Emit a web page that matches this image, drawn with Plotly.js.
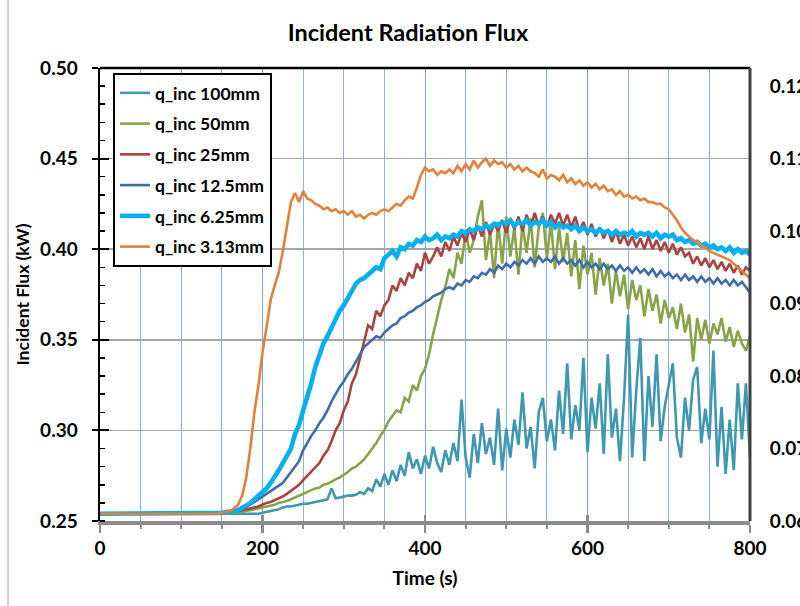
<!DOCTYPE html>
<html>
<head>
<meta charset="utf-8">
<script src="https://cdn.plot.ly/plotly-3.0.1.min.js"></script>
<style>
html,body{margin:0;padding:0;background:#fff;}
#chart{width:800px;height:606px;}
</style>
</head>
<body>
<div id="chart"></div>
<script>
// Time axis: samples every 5 s from 0 to 800 s
const timeStart = 0;
const timeStep = 5;

const seriesNames = ["q_inc 100mm", "q_inc 50mm", "q_inc 25mm", "q_inc 12.5mm", "q_inc 6.25mm", "q_inc 3.13mm"];

const q100 = [
0.254,0.254,0.254,0.254,0.254,0.254,0.254,0.254,0.254,0.254,
0.254,0.254,0.254,0.254,0.254,0.254,0.254,0.254,0.254,0.254,
0.254,0.254,0.254,0.254,0.254,0.254,0.254,0.254,0.254,0.254,
0.254,0.254,0.254,0.254,0.254,0.254,0.254,0.254,0.254,0.254,
0.2545,0.255,0.2555,0.256,0.2565,0.2575,0.258,0.258,0.2585,0.259,
0.2595,0.2595,0.260,0.2605,0.261,0.2615,0.262,0.268,0.2625,0.263,
0.2635,0.264,0.264,0.2645,0.266,0.265,0.268,0.2665,0.273,0.269,
0.276,0.270,0.278,0.272,0.281,0.275,0.288,0.279,0.284,0.276,
0.286,0.279,0.291,0.282,0.277,0.289,0.281,0.293,0.283,0.317,
0.285,0.274,0.298,0.282,0.304,0.287,0.296,0.281,0.312,0.278,
0.301,0.285,0.306,0.292,0.321,0.290,0.302,0.279,0.310,0.318,
0.294,0.306,0.289,0.322,0.298,0.337,0.295,0.314,0.300,0.340,
0.288,0.318,0.301,0.326,0.287,0.342,0.296,0.312,0.283,0.318,
0.364,0.285,0.322,0.351,0.283,0.330,0.302,0.342,0.294,0.313,
0.325,0.337,0.296,0.285,0.318,0.300,0.328,0.335,0.293,0.312,
0.295,0.344,0.280,0.313,0.276,0.306,0.278,0.326,0.295,0.326,
0.285];

const q50 = [
0.254,0.254,0.254,0.254,0.254,0.254,0.254,0.254,0.254,0.254,
0.254,0.254,0.254,0.254,0.254,0.254,0.254,0.254,0.254,0.254,
0.254,0.254,0.254,0.254,0.254,0.254,0.254,0.254,0.254,0.254,
0.254,0.254,0.2545,0.2545,0.255,0.255,0.2555,0.256,0.2565,0.257,
0.2575,0.258,0.2585,0.259,0.260,0.2605,0.261,0.262,0.263,0.264,
0.265,0.266,0.267,0.268,0.2685,0.270,0.2705,0.272,0.273,0.274,
0.2755,0.277,0.279,0.280,0.282,0.284,0.287,0.290,0.293,0.297,
0.300,0.305,0.308,0.311,0.310,0.318,0.316,0.325,0.322,0.330,
0.334,0.342,0.353,0.363,0.372,0.379,0.389,0.384,0.398,0.392,
0.410,0.398,0.405,0.418,0.427,0.394,0.410,0.384,0.415,0.392,
0.418,0.396,0.412,0.386,0.414,0.398,0.417,0.390,0.412,0.420,
0.395,0.415,0.389,0.412,0.393,0.409,0.385,0.405,0.378,0.402,
0.386,0.398,0.375,0.395,0.380,0.392,0.370,0.388,0.374,0.386,
0.367,0.383,0.372,0.380,0.363,0.378,0.366,0.375,0.359,0.372,
0.362,0.368,0.356,0.370,0.354,0.364,0.338,0.362,0.350,0.361,
0.348,0.359,0.353,0.362,0.349,0.357,0.346,0.355,0.348,0.344,
0.352];

const q25 = [
0.254,0.254,0.254,0.254,0.254,0.254,0.254,0.254,0.254,0.254,
0.254,0.254,0.254,0.254,0.254,0.254,0.254,0.254,0.254,0.254,
0.254,0.254,0.254,0.254,0.254,0.254,0.254,0.254,0.254,0.254,
0.254,0.2545,0.255,0.255,0.2555,0.256,0.2565,0.257,0.2575,0.258,
0.259,0.260,0.2605,0.2615,0.2625,0.2635,0.265,0.2665,0.268,0.270,
0.2725,0.275,0.277,0.280,0.282,0.286,0.289,0.294,0.300,0.304,
0.311,0.316,0.326,0.331,0.340,0.349,0.358,0.356,0.366,0.363,
0.369,0.372,0.380,0.377,0.384,0.380,0.387,0.384,0.392,0.388,
0.398,0.392,0.396,0.401,0.396,0.404,0.399,0.407,0.402,0.409,
0.404,0.411,0.405,0.413,0.407,0.415,0.408,0.414,0.410,0.416,
0.409,0.417,0.411,0.418,0.410,0.419,0.412,0.420,0.413,0.418,
0.412,0.419,0.414,0.420,0.413,0.419,0.412,0.418,0.410,0.415,
0.408,0.414,0.407,0.412,0.406,0.411,0.404,0.410,0.403,0.408,
0.402,0.407,0.401,0.406,0.400,0.407,0.400,0.405,0.399,0.404,
0.398,0.403,0.397,0.401,0.396,0.398,0.392,0.396,0.391,0.395,
0.390,0.394,0.389,0.393,0.388,0.392,0.387,0.391,0.386,0.390,
0.388];

const q12_5 = [
0.254,0.254,0.254,0.254,0.254,0.254,0.254,0.254,0.254,0.254,
0.254,0.254,0.254,0.254,0.254,0.254,0.254,0.254,0.254,0.254,
0.254,0.254,0.254,0.254,0.254,0.254,0.254,0.254,0.254,0.254,
0.254,0.2545,0.255,0.2555,0.256,0.257,0.258,0.259,0.2605,0.262,
0.2635,0.265,0.2665,0.268,0.2695,0.271,0.274,0.277,0.280,0.283,
0.289,0.293,0.297,0.300,0.304,0.307,0.311,0.316,0.320,0.324,
0.327,0.331,0.334,0.338,0.342,0.346,0.348,0.350,0.352,0.351,
0.354,0.356,0.358,0.359,0.362,0.363,0.365,0.366,0.368,0.369,
0.371,0.372,0.374,0.375,0.376,0.378,0.379,0.378,0.381,0.380,
0.383,0.382,0.385,0.384,0.387,0.386,0.389,0.387,0.391,0.389,
0.392,0.390,0.393,0.391,0.394,0.392,0.395,0.392,0.396,0.393,
0.395,0.393,0.396,0.392,0.395,0.392,0.394,0.391,0.394,0.390,
0.393,0.390,0.392,0.389,0.392,0.389,0.391,0.388,0.391,0.388,
0.390,0.387,0.390,0.387,0.389,0.386,0.389,0.385,0.388,0.385,
0.387,0.384,0.386,0.383,0.386,0.383,0.385,0.382,0.385,0.382,
0.384,0.381,0.384,0.381,0.383,0.380,0.383,0.380,0.382,0.379,
0.376];

const q6_25 = [
0.254,0.254,0.254,0.254,0.254,0.254,0.254,0.254,0.254,0.254,
0.254,0.254,0.254,0.254,0.254,0.254,0.254,0.254,0.254,0.254,
0.254,0.254,0.254,0.254,0.254,0.254,0.254,0.254,0.254,0.254,
0.2545,0.255,0.255,0.2555,0.256,0.257,0.2585,0.260,0.262,0.264,
0.266,0.268,0.271,0.274,0.278,0.282,0.286,0.290,0.298,0.303,
0.311,0.318,0.326,0.335,0.342,0.348,0.352,0.357,0.361,0.366,
0.369,0.373,0.377,0.381,0.383,0.384,0.386,0.388,0.390,0.389,
0.395,0.397,0.399,0.396,0.401,0.400,0.403,0.402,0.405,0.404,
0.407,0.405,0.406,0.408,0.405,0.407,0.406,0.408,0.407,0.410,
0.409,0.411,0.410,0.412,0.411,0.413,0.412,0.414,0.413,0.415,
0.414,0.416,0.413,0.415,0.414,0.416,0.413,0.415,0.414,0.416,
0.413,0.415,0.412,0.414,0.412,0.413,0.411,0.413,0.410,0.412,
0.410,0.411,0.409,0.411,0.409,0.410,0.408,0.410,0.408,0.409,
0.408,0.410,0.407,0.409,0.408,0.409,0.407,0.409,0.406,0.408,
0.407,0.408,0.405,0.406,0.404,0.405,0.403,0.404,0.402,0.403,
0.401,0.402,0.400,0.401,0.399,0.401,0.398,0.400,0.398,0.399,
0.397];

const q3_13 = [
0.254,0.254,0.254,0.254,0.254,0.254,0.254,0.254,0.254,0.254,
0.254,0.254,0.254,0.254,0.254,0.254,0.254,0.254,0.254,0.254,
0.254,0.254,0.254,0.254,0.254,0.254,0.254,0.254,0.254,0.254,
0.2545,0.255,0.2555,0.257,0.259,0.264,0.274,0.290,0.310,0.325,
0.343,0.357,0.372,0.380,0.387,0.399,0.412,0.426,0.431,0.426,
0.432,0.428,0.427,0.425,0.424,0.422,0.423,0.421,0.422,0.420,
0.421,0.419,0.421,0.418,0.419,0.417,0.419,0.420,0.419,0.421,
0.422,0.421,0.423,0.425,0.424,0.427,0.429,0.428,0.434,0.441,
0.445,0.443,0.444,0.441,0.443,0.442,0.444,0.442,0.446,0.443,
0.447,0.444,0.449,0.445,0.448,0.450,0.446,0.449,0.447,0.448,
0.445,0.447,0.444,0.446,0.443,0.445,0.443,0.442,0.440,0.444,
0.439,0.441,0.440,0.438,0.441,0.437,0.439,0.436,0.438,0.435,
0.437,0.434,0.436,0.433,0.435,0.432,0.433,0.430,0.432,0.429,
0.430,0.428,0.429,0.427,0.428,0.426,0.426,0.425,0.425,0.423,
0.422,0.419,0.416,0.412,0.409,0.407,0.405,0.404,0.402,0.401,
0.399,0.398,0.397,0.396,0.395,0.394,0.392,0.390,0.388,0.386,
0.384];

const seriesValues = [q100, q50, q25, q12_5, q6_25, q3_13];
const seriesColors = ["#3F97B0", "#86A44A", "#A84340", "#3F6DA8", "#00B0F0", "#E0823A"];
const seriesWidths = [2.6, 2.6, 2.6, 2.6, 4.6, 2.6];

const leftTicks = [0.25, 0.30, 0.35, 0.40, 0.45, 0.50];
const rightTicks = [0.06, 0.07, 0.08, 0.09, 0.10, 0.11, 0.12];
const rightTickText = ["0.06", "0.07", "0.08", "0.09", "0.10", "0.11", "0.12"];
const xTicks = [0, 200, 400, 600, 800];

const FONT = "Lato, 'Open Sans', sans-serif";

const traces = seriesNames.map((name, i) => ({
  type: "scatter",
  mode: "lines",
  name: name,
  x0: timeStart,
  dx: timeStep,
  y: seriesValues[i],
  line: {color: seriesColors[i], width: seriesWidths[i]},
  legendgroup: "g" + i,
  hoverinfo: "skip"
}));

// helper traces so that the overlay axes are drawn
traces.push({type: "scatter", mode: "lines", x: [null], y: [null], yaxis: "y2", showlegend: false, hoverinfo: "skip"});
traces.push({type: "scatter", mode: "lines", x: [null], y: [null], xaxis: "x2", yaxis: "y3", showlegend: false, hoverinfo: "skip"});

const layout = {
  width: 800,
  height: 606,
  margin: {l: 100, r: 50, t: 68, b: 85},
  paper_bgcolor: "#ffffff",
  plot_bgcolor: "#ffffff",
  font: {family: FONT, color: "#000", size: 18, weight: "bold"},
  title: {
    text: "Incident Radiation Flux",
    x: 0.51, xref: "container", xanchor: "center",
    y: 1 - 33/606, yref: "container", yanchor: "middle",
    font: {family: FONT, size: 23.5, weight: "bold", color: "#000"}
  },
  showlegend: true,
  legend: {
    x: 0.02, y: 0.989, xanchor: "left", yanchor: "top",
    bgcolor: "#ffffff", bordercolor: "#000000", borderwidth: 2,
    font: {family: FONT, size: 17.5, weight: "bold", color: "#000"},
    traceorder: "grouped", tracegroupgap: 5,
    itemwidth: 30
  },
  xaxis: {
    range: [0, 800],
    tickvals: xTicks,
    ticks: "outside", ticklen: 8, tickwidth: 2.5, tickcolor: "#8C8C8C",
    showline: true, linecolor: "#8C8C8C", linewidth: 3.5,
    showgrid: true, gridcolor: "#7FA2D6", gridwidth: 1,
    zeroline: false,
    minor: {dtick: 50, showgrid: true, gridcolor: "#8FAFDC", gridwidth: 1, ticks: "outside", ticklen: 4, tickwidth: 2, tickcolor: "#8C8C8C"},
    tickfont: {family: FONT, size: 19, weight: "bold", color: "#000"},
    title: {text: "Time (s)", font: {family: FONT, size: 19, weight: "bold", color: "#000"}, standoff: 14},
    automargin: false,
    fixedrange: true
  },
  xaxis2: {
    overlaying: "x", anchor: "y", range: [0, 800],
    tickvals: xTicks, ticks: "inside", ticklen: 6, tickwidth: 2.5, tickcolor: "#8C8C8C",
    showticklabels: false, showgrid: false, zeroline: false, showline: false,
    automargin: false, side: "bottom"
  },
  yaxis: {
    range: [0.25, 0.50],
    tickvals: leftTicks, tickformat: ".2f",
    ticks: "outside", ticklen: 6, tickwidth: 2, tickcolor: "#000",
    ticklabelstandoff: 10,
    showline: true, linecolor: "#000", linewidth: 2.5,
    showgrid: true, gridcolor: "#A6A6A6", gridwidth: 1.5,
    zeroline: false,
    minor: {dtick: 0.01, ticks: "inside", ticklen: 5, tickwidth: 1.5, tickcolor: "#000", showgrid: false},
    tickfont: {family: FONT, size: 19, weight: "bold", color: "#000"},
    title: {text: "Incident Flux (kW)", font: {family: FONT, size: 17.5, weight: "bold", color: "#000"}, standoff: 6},
    automargin: false,
    fixedrange: true
  },
  yaxis2: {
    overlaying: "y", side: "right", anchor: "x",
    range: [0.06, 0.1225],
    tickvals: rightTicks, ticktext: rightTickText,
    ticks: "outside", ticklen: 15, tickcolor: "rgba(0,0,0,0)",
    showline: false, showgrid: false, zeroline: false,
    tickfont: {family: FONT, size: 19, weight: "bold", color: "#000"},
    automargin: false
  },
  yaxis3: {
    overlaying: "y", side: "left", anchor: "x",
    range: [0.25, 0.50],
    tickvals: leftTicks, ticks: "inside", ticklen: 9, tickwidth: 2, tickcolor: "#000",
    showticklabels: false, showline: false, showgrid: false, zeroline: false,
    automargin: false
  },
  shapes: [
    {type: "line", xref: "paper", yref: "paper", x0: 0, x1: 1, y0: 1, y1: 1, line: {color: "#000", width: 2.5}},
    {type: "line", xref: "paper", yref: "paper", x0: 1, x1: 1, y0: 0, y1: 1, line: {color: "#404040", width: 3}},
    {type: "line", xref: "paper", yref: "paper", x0: -92/650, x1: -92/650, y0: -0.3, y1: 1.3, line: {color: "#A6A6A6", width: 1}}
  ]
};

Plotly.newPlot("chart", traces, layout, {staticPlot: true, displayModeBar: false});
</script>
</body>
</html>
